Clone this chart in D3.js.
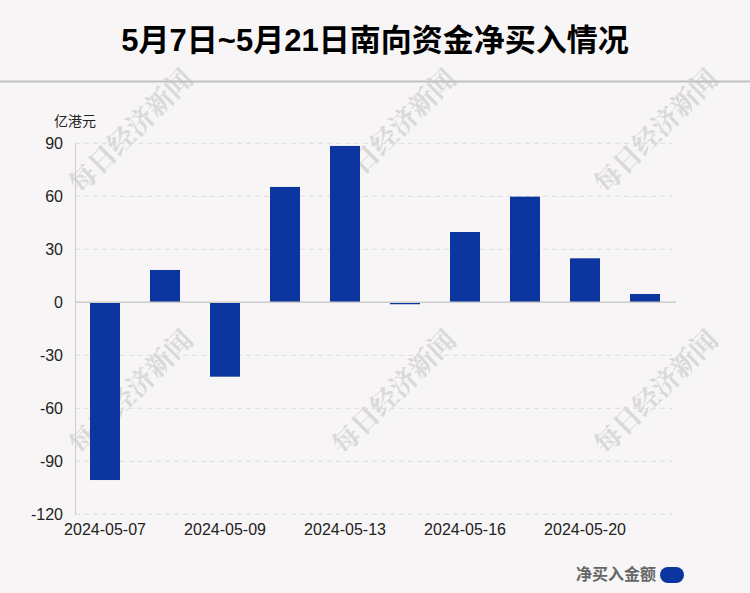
<!DOCTYPE html>
<html>
<head>
<meta charset="utf-8">
<script src="https://cdn.jsdelivr.net/npm/d3@7"></script>
<style>
html,body{margin:0;padding:0;background:#f8f5f6;}
svg{display:block;}
</style>
</head>
<body>
<svg id="chart" width="750" height="593"></svg>
<script>
const categories = ["2024-05-07","2024-05-08","2024-05-09","2024-05-10","2024-05-13","2024-05-14","2024-05-16","2024-05-17","2024-05-20","2024-05-21"];
const netBuy = [-100.6, 18.3, -42.1, 65.3, 88.5, -1.1, 39.8, 59.8, 24.9, 4.7];
const yTicks = [-120, -90, -60, -30, 0, 30, 60, 90];
const xTickLabels = ["2024-05-07","2024-05-09","2024-05-13","2024-05-16","2024-05-20"];
const title = "5月7日~5月21日南向资金净买入情况";
const unitLabel = "亿港元";
const legendLabel = "净买入金额";
const watermark = "每日经济新闻";

const W = 750, H = 593;
const svg = d3.select("#chart");
const fontLatin = "'Liberation Sans', Arial, 'Noto Sans CJK SC', sans-serif";
const fontCJK = "'Noto Sans CJK SC', 'Liberation Sans', sans-serif";
const barColor = "#0d359f";

svg.append("rect").attr("width", W).attr("height", H).attr("fill", "#f8f5f6");

// watermarks
const wmPos = [[131,131],[394,131],[656,131],[131,392],[394,392],[656,392]];
svg.append("g").selectAll("text").data(wmPos).join("text")
  .attr("transform", d => `translate(${d[0]},${d[1]}) rotate(-45)`)
  .attr("text-anchor", "middle").attr("dy", "0.35em")
  .attr("font-family", "'Noto Serif CJK SC','Noto Sans CJK SC',serif")
  .attr("font-weight", 700).attr("font-size", 27)
  .attr("fill", "#d9d9d9")
  .text(watermark);

// title
svg.append("text").attr("x", 375).attr("y", 51).attr("text-anchor", "middle")
  .attr("font-family", fontLatin).attr("font-weight", 700).attr("font-size", 31)
  .attr("fill", "#000").text(title);
svg.append("line").attr("x1", 0).attr("x2", W).attr("y1", 81.5).attr("y2", 81.5)
  .attr("stroke", "#c0c0c0").attr("stroke-width", 2);

const x = d3.scaleBand().domain(categories).range([75, 675]).paddingInner(0.5).paddingOuter(0.25);
const y = d3.scaleLinear().domain([-120, 90]).range([514.3, 143.3]);

// grid
svg.append("g").selectAll("line").data(yTicks.filter(t => t !== 0)).join("line")
  .attr("x1", 75).attr("x2", 672).attr("y1", d => y(d)).attr("y2", d => y(d))
  .attr("stroke", "#dddddd").attr("stroke-width", 1).attr("stroke-dasharray", "5,4");

// y axis
const yAxis = svg.append("g").attr("transform", "translate(75,0)")
  .call(d3.axisLeft(y).tickValues(yTicks).tickFormat(d => String(d)).tickSize(0).tickPadding(12));
yAxis.select(".domain").attr("stroke", "#cccccc");
yAxis.selectAll("text").attr("font-family", fontLatin).attr("font-size", 16).attr("fill", "#222");

svg.append("text").attr("x", 54).attr("y", 126).attr("font-family", fontCJK)
  .attr("font-size", 14).attr("fill", "#222").text(unitLabel);

// bars
svg.append("g").selectAll("rect").data(categories).join("rect")
  .attr("x", d => x(d)).attr("width", x.bandwidth())
  .attr("y", (d,i) => y(Math.max(0, netBuy[i])))
  .attr("height", (d,i) => Math.abs(y(netBuy[i]) - y(0)))
  .attr("fill", barColor);

// zero line
svg.append("line").attr("x1", 75).attr("x2", 676).attr("y1", y(0)).attr("y2", y(0))
  .attr("stroke", "#cccccc").attr("stroke-width", 1.5);

// x axis labels
const xAxis = svg.append("g").attr("transform", "translate(0,514)")
  .call(d3.axisBottom(x).tickValues(xTickLabels).tickSize(0).tickPadding(10));
xAxis.select(".domain").remove();
xAxis.selectAll("text").attr("font-family", fontLatin).attr("font-size", 16).attr("fill", "#222");

// legend
svg.append("text").attr("x", 656).attr("y", 580).attr("text-anchor", "end")
  .attr("font-family", fontCJK).attr("font-weight", 700).attr("font-size", 16)
  .attr("fill", "#666").text(legendLabel);
svg.append("rect").attr("x", 660).attr("y", 567).attr("width", 24).attr("height", 16)
  .attr("rx", 8).attr("fill", barColor);
</script>
</body>
</html>
